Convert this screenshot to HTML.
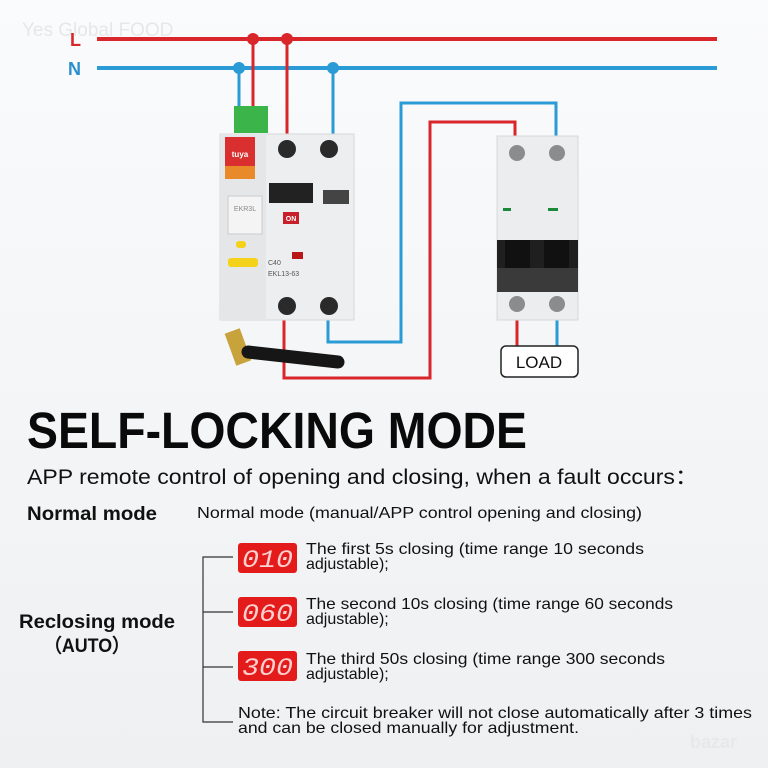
<!DOCTYPE html>
<html><head><meta charset="utf-8"><style>
html,body{margin:0;padding:0;background:#f4f5f7;}
svg{display:block}
</style></head><body>
<svg width="768" height="768" viewBox="0 0 768 768" xmlns="http://www.w3.org/2000/svg" font-family="Liberation Sans, sans-serif">
<defs><linearGradient id="bg" x1="0" y1="0" x2="0" y2="1"><stop offset="0" stop-color="#fafbfc"/><stop offset="1" stop-color="#eef0f2"/></linearGradient></defs>
<rect width="768" height="768" fill="url(#bg)"/>
<text x="22" y="36" font-size="19" fill="#e6e7e9">Yes Global FOOD</text>
<!-- mains -->
<text x="70" y="46" font-size="18" font-weight="bold" fill="#d8262b">L</text>
<text x="68" y="75" font-size="18" font-weight="bold" fill="#2a8fcf">N</text>
<line x1="97" y1="39" x2="717" y2="39" stroke="#d8262b" stroke-width="4"/>
<line x1="97" y1="68" x2="717" y2="68" stroke="#2a9bd5" stroke-width="4"/>
<g fill="none" stroke-width="3">
<polyline points="253,39 253,110" stroke="#d8262b"/>
<polyline points="287,39 287,134" stroke="#d8262b"/>
<polyline points="239,68 239,110" stroke="#2a9bd5"/>
<polyline points="333,68 333,134" stroke="#2a9bd5"/>
<polyline points="328,320 328,342 401,342 401,103 556,103 556,136" stroke="#2a9bd5"/>
<polyline points="284,320 284,378 430,378 430,122 515,122 515,136" stroke="#d8262b"/>
<polyline points="517,320 517,346" stroke="#d8262b"/>
<polyline points="557,320 557,346" stroke="#2a9bd5"/>
</g>
<circle cx="253" cy="39" r="6" fill="#d8262b"/><circle cx="287" cy="39" r="6" fill="#d8262b"/>
<circle cx="239" cy="68" r="6" fill="#2a9bd5"/><circle cx="333" cy="68" r="6" fill="#2a9bd5"/>
<!-- device 1 -->
<rect x="234" y="106" width="34" height="27" fill="#3bb54a"/>
<rect x="220" y="134" width="134" height="186" fill="#eceeef" stroke="#d6d8da"/>
<rect x="220" y="134" width="46" height="186" fill="#e4e6e8"/>
<rect x="225" y="137" width="30" height="42" fill="#d9302f"/>
<rect x="225" y="166" width="30" height="13" fill="#e88a2a"/>
<text x="240" y="157" font-size="8" fill="#fff" text-anchor="middle" font-weight="bold">tuya</text>
<rect x="228" y="196" width="34" height="38" fill="#f4f4f4" stroke="#ccc"/>
<text x="245" y="211" font-size="7" fill="#888" text-anchor="middle">EKR3L</text>
<rect x="228" y="258" width="30" height="9" rx="3" fill="#f4d21a"/>
<rect x="236" y="241" width="10" height="7" rx="3" fill="#f4d21a"/>
<circle cx="287" cy="149" r="9" fill="#2a2a2a"/><circle cx="329" cy="149" r="9" fill="#2a2a2a"/>
<circle cx="287" cy="306" r="9" fill="#2a2a2a"/><circle cx="329" cy="306" r="9" fill="#2a2a2a"/>
<rect x="269" y="183" width="44" height="20" fill="#222"/>
<rect x="283" y="212" width="16" height="12" fill="#c8202a"/>
<text x="291" y="221" font-size="7" fill="#fff" text-anchor="middle" font-weight="bold">ON</text>
<rect x="323" y="190" width="26" height="14" fill="#444"/>
<text x="268" y="265" font-size="7" fill="#555">C40</text>
<text x="268" y="276" font-size="7" fill="#555">EKL13-63</text>
<rect x="292" y="252" width="11" height="7" fill="#b81818"/>
<!-- antenna -->
<rect x="230" y="330" width="16" height="34" fill="#c8a23a" transform="rotate(-20 238 347)"/>
<line x1="248" y1="352" x2="338" y2="362" stroke="#161616" stroke-width="13" stroke-linecap="round"/>
<!-- breaker 2 -->
<rect x="497" y="136" width="81" height="184" fill="#ecedef" stroke="#d6d8da"/>
<circle cx="517" cy="153" r="8" fill="#8a8c8e"/><circle cx="557" cy="153" r="8" fill="#8a8c8e"/>
<circle cx="517" cy="304" r="8" fill="#8a8c8e"/><circle cx="557" cy="304" r="8" fill="#8a8c8e"/>
<rect x="503" y="208" width="8" height="3" fill="#1a8a3a"/><rect x="548" y="208" width="10" height="3" fill="#1a8a3a"/>
<rect x="497" y="240" width="81" height="52" fill="#1f1f1f"/>
<rect x="505" y="240" width="25" height="30" fill="#111"/><rect x="544" y="240" width="25" height="30" fill="#111"/>
<rect x="497" y="268" width="81" height="24" fill="#3a3a3a"/>
<rect x="501" y="346" width="77" height="31" rx="5" fill="#fff" stroke="#222" stroke-width="1.5"/>
<text x="539" y="368" font-size="17" text-anchor="middle" fill="#111">LOAD</text>
<!-- text -->
<text x="27" y="448" font-size="51" font-weight="bold" fill="#0a0a0a" textLength="500" lengthAdjust="spacingAndGlyphs">SELF-LOCKING MODE</text>
<text x="27" y="484" font-size="21" fill="#111" textLength="671" lengthAdjust="spacingAndGlyphs">APP remote control of opening and closing, when a fault occurs：</text>
<text x="27" y="520" font-size="19" font-weight="bold" fill="#111" textLength="130" lengthAdjust="spacingAndGlyphs">Normal mode</text>
<text x="197" y="518" font-size="16" fill="#111" textLength="445" lengthAdjust="spacingAndGlyphs">Normal mode (manual/APP control opening and closing)</text>
<text x="19" y="628" font-size="19" font-weight="bold" fill="#111" textLength="156" lengthAdjust="spacingAndGlyphs">Reclosing mode</text>
<text x="44" y="652" font-size="19" font-weight="bold" fill="#111" textLength="86" lengthAdjust="spacingAndGlyphs">（AUTO）</text>
<g stroke="#333" stroke-width="1.2" fill="none">
<polyline points="233,557 203,557 203,722 233,722"/>
<line x1="203" y1="612" x2="233" y2="612"/><line x1="203" y1="667" x2="233" y2="667"/>
</g>
<g font-size="25" fill="#ffd0d0" font-family="Liberation Mono, monospace" font-style="italic">
<rect x="238" y="543" width="59" height="30" rx="3" fill="#e41b1b"/><text x="242" y="567" textLength="51" lengthAdjust="spacingAndGlyphs">010</text>
<rect x="238" y="597" width="59" height="30" rx="3" fill="#e41b1b"/><text x="242" y="621" textLength="51" lengthAdjust="spacingAndGlyphs">060</text>
<rect x="238" y="651" width="59" height="30" rx="3" fill="#e41b1b"/><text x="242" y="675" textLength="51" lengthAdjust="spacingAndGlyphs">300</text>
</g>
<g font-size="16" fill="#111">
<text x="306" y="554" textLength="338" lengthAdjust="spacingAndGlyphs">The first 5s closing (time range 10  seconds</text>
<text x="306" y="569">adjustable);</text>
<text x="306" y="609" textLength="367" lengthAdjust="spacingAndGlyphs">The second 10s closing (time range 60 seconds</text>
<text x="306" y="624">adjustable);</text>
<text x="306" y="664" textLength="359" lengthAdjust="spacingAndGlyphs">The third 50s closing (time range 300 seconds</text>
<text x="306" y="679">adjustable);</text>
<text x="238" y="718" textLength="514" lengthAdjust="spacingAndGlyphs">Note: The circuit breaker will not close automatically after 3 times</text>
<text x="238" y="733" textLength="341" lengthAdjust="spacingAndGlyphs">and can be closed manually for adjustment.</text>
</g>
<text x="690" y="748" font-size="18" font-weight="bold" fill="#e8e8ea">bazar</text>
</svg>
</body></html>
